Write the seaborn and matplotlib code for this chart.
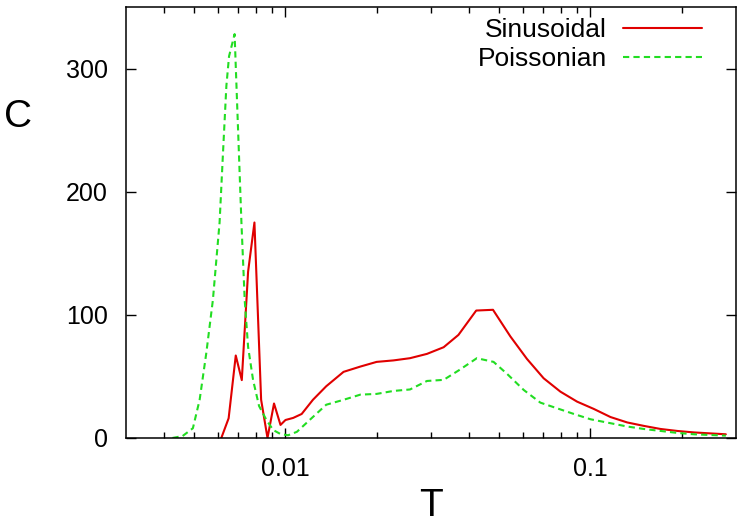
import numpy as np
import pandas as pd
import matplotlib
matplotlib.use('Agg')
import matplotlib.pyplot as plt
import seaborn as sns
from matplotlib.ticker import FixedLocator, NullFormatter

# Sinusoidal series (red, solid)
sin_T = [0.00616, 0.00651, 0.00687, 0.00719, 0.00754, 0.00791, 0.00832, 0.00873,
         0.00917, 0.00963, 0.0100, 0.0106, 0.0113, 0.0123, 0.0136, 0.0155, 0.0176,
         0.0199, 0.0226, 0.0256, 0.0291, 0.0330, 0.0369, 0.0422, 0.0479, 0.0546,
         0.0619, 0.0702, 0.0797, 0.0904, 0.1025, 0.1163, 0.1320, 0.1497, 0.1698,
         0.1927, 0.2186, 0.2480, 0.2778]
sin_C = [0, 16, 67, 47, 135, 175, 31, 0, 28, 10.6, 14.6, 16.3, 19.5, 31, 42, 53.7,
         58, 61.8, 63, 64.8, 68.3, 73.7, 83.7, 103.5, 104.1, 82.5, 64.2, 48.5, 37.6,
         29.5, 23.6, 17, 12.6, 9.8, 7.3, 5.7, 4.5, 3.7, 3.0]

# Poissonian series (green, dashed)
poi_T = [0.00426, 0.00460, 0.00497, 0.00523, 0.00550, 0.00578, 0.00608, 0.00624,
         0.00640, 0.00653, 0.00681, 0.00717, 0.00735, 0.00754, 0.00783, 0.00819,
         0.00866, 0.00911, 0.00963, 0.0102, 0.0109, 0.0120, 0.0136, 0.0155, 0.0176,
         0.0199, 0.0226, 0.0256, 0.0291, 0.0330, 0.0372, 0.0424, 0.0481, 0.0533,
         0.0604, 0.0685, 0.0777, 0.0882, 0.1000, 0.1163, 0.1320, 0.1497, 0.1698,
         0.1927, 0.2186, 0.2480, 0.2778]
poi_C = [0, 1.6, 7.9, 31, 69, 112, 175, 232, 286, 310, 328, 175, 112, 74, 47, 26,
         14.6, 6.5, 3.2, 2.2, 5, 14.6, 27, 31, 35.2, 35.8, 38.2, 39.4, 46.3, 47.2,
         55.3, 64.8, 61.8, 52, 39, 28.7, 24.1, 19.5, 15.2, 12, 9.3, 7.3, 5.7, 4.1,
         3, 2.4, 1.9]

series_names = ['Sinusoidal', 'Poissonian']
x_major = [0.01, 0.1]
x_major_labels = ['0.01', '0.1']
y_ticks = [0, 100, 200, 300]

sns.set_style('ticks')
plt.rcParams['font.family'] = ['Liberation Sans', 'DejaVu Sans']
for key in ('text.color', 'axes.labelcolor', 'xtick.color', 'ytick.color', 'axes.edgecolor'):
    plt.rcParams[key] = 'black'

df = pd.concat([
    pd.DataFrame({'T': sin_T, 'C': sin_C, 'series': series_names[0]}),
    pd.DataFrame({'T': poi_T, 'C': poi_C, 'series': series_names[1]}),
], ignore_index=True)

fig = plt.figure(figsize=(7.43, 5.28), dpi=100)
ax = fig.add_axes([0.1696, 0.1705, 0.8210, 0.8162])

sns.lineplot(data=df, x='T', y='C', hue='series', style='series',
             palette={'Sinusoidal': '#e00000', 'Poissonian': '#22dd22'},
             dashes={'Sinusoidal': '', 'Poissonian': (3, 2)},
             estimator=None, sort=False, linewidth=1.5, ax=ax)

ax.set_xscale('log')
ax.set_xlim(0.003, 0.3)
ax.set_ylim(0, 350)
ax.set_xticks(x_major)
ax.set_xticklabels(x_major_labels)
minor = [m * 10.0 ** e for e in (-3, -2, -1) for m in range(2, 10)]
ax.xaxis.set_minor_locator(FixedLocator([v for v in minor if 0.003 < v < 0.3]))
ax.xaxis.set_minor_formatter(NullFormatter())
ax.set_yticks(y_ticks)
ax.set_xlabel('')
ax.set_ylabel('')

for s in ax.spines.values():
    s.set_visible(True)
    s.set_linewidth(1.1)
    s.set_color('black')
ax.tick_params(which='both', direction='in', top=True, right=True, color='black', width=1.0)
ax.tick_params(which='major', length=7, labelsize=18)
ax.tick_params(axis='x', which='major', pad=14)
ax.tick_params(axis='y', which='major', pad=13)
ax.tick_params(which='minor', length=4)

fig.text(18.5 / 743, 1 - 117 / 528, 'C', ha='center', va='center', fontsize=28)
fig.text(431 / 743, 1 - 506 / 528, 'T', ha='center', va='center', fontsize=28)

handles, labels = ax.get_legend_handles_labels()
if ax.get_legend() is not None:
    ax.get_legend().remove()
leg = ax.legend(handles, labels, loc='upper right', bbox_to_anchor=(702 / 743, 1 - 18 / 528),
                bbox_transform=fig.transFigure, frameon=False, markerfirst=False,
                alignment='right', fontsize=19, handlelength=3.0, handletextpad=0.6,
                labelspacing=0.2, borderpad=0, borderaxespad=0)

fig.savefig('out.png', dpi=100)
